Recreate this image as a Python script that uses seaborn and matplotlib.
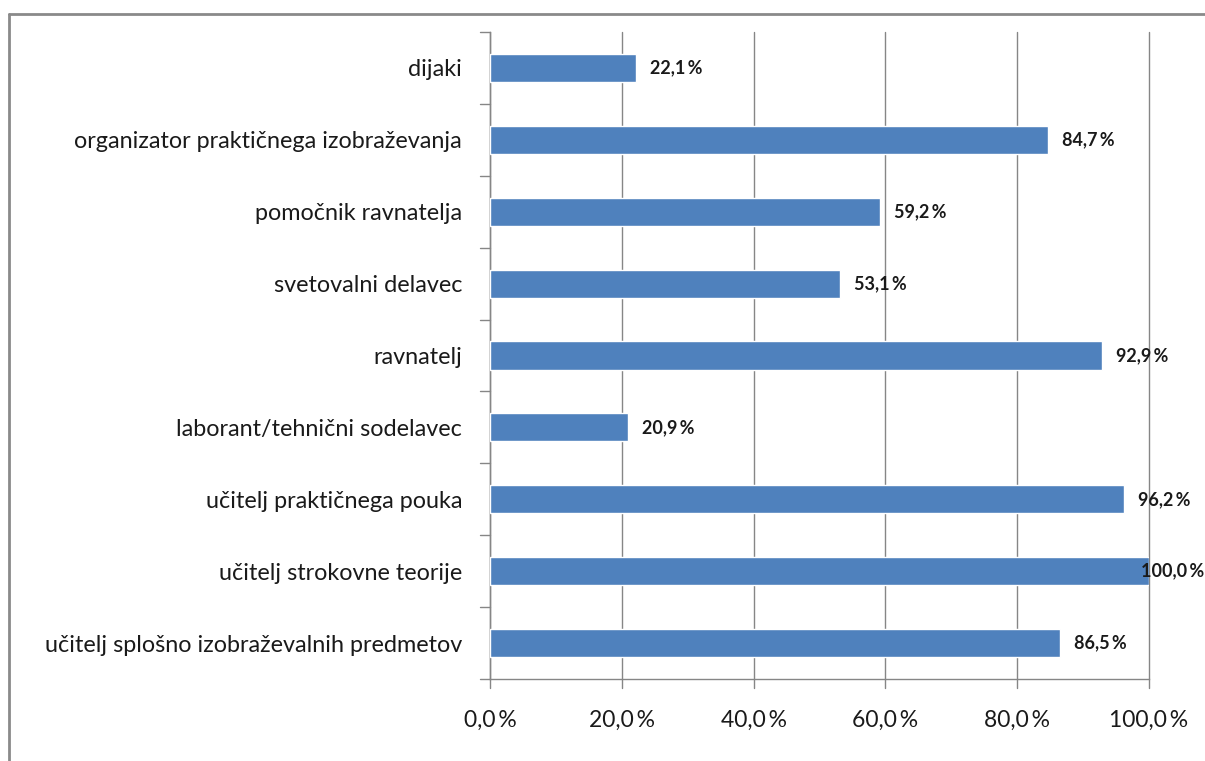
import matplotlib
matplotlib.use("Agg")
import matplotlib.pyplot as plt
import seaborn as sns
import pandas as pd
from matplotlib.lines import Line2D

categories = [
    "dijaki",
    "organizator praktičnega izobraževanja",
    "pomočnik ravnatelja",
    "svetovalni delavec",
    "ravnatelj",
    "laborant/tehnični sodelavec",
    "učitelj praktičnega pouka",
    "učitelj strokovne teorije",
    "učitelj splošno izobraževalnih predmetov",
]
values = [22.1, 84.7, 59.2, 53.1, 92.9, 20.9, 96.2, 100.0, 86.5]
xticks = [0, 20, 40, 60, 80, 100]
xtick_labels = ["0,0\u2009%", "20,0\u2009%", "40,0\u2009%", "60,0\u2009%", "80,0\u2009%", "100,0\u2009%"]

sns.set_theme(style="white")
plt.rcParams["font.family"] = ["Lato", "DejaVu Sans"]

df = pd.DataFrame({"cat": categories, "val": values})

fig = plt.figure(figsize=(12.05, 7.61), dpi=100)
W, H = 1205, 761
ax = fig.add_axes([490 / W, 1 - 679 / H, (1149 - 490) / W, (679 - 32) / H])

sns.barplot(data=df, x="val", y="cat", orient="h", color="#4F81BD", saturation=1,
            width=0.39, ax=ax, zorder=3)

ax.set_xlim(0, 100)
ax.set_ylim(len(categories) - 0.5, -0.5)
ax.set_xticks(xticks)
ax.set_xticklabels(xtick_labels, fontsize=16.5, color="#1a1a1a")
ax.set_xlabel("")
ax.set_ylabel("")
ax.tick_params(axis="x", length=0, pad=22)

ax.set_yticks([i for i in range(len(categories))])
ax.set_yticklabels(categories, fontsize=16.8, color="#1a1a1a")
ax.tick_params(axis="y", length=0, pad=20)
for b in [i - 0.5 for i in range(len(categories) + 1)]:
    ax.plot([-1.5, 0], [b, b], color="#868686", lw=1, clip_on=False, zorder=4)
for t in xticks:
    ax.plot([t, t], [-0.5, len(categories) - 0.5 + 0.13],
            color="#868686", lw=1, clip_on=False, zorder=1)

ax.grid(False)
for s in ["top", "right"]:
    ax.spines[s].set_visible(False)
for s in ["left", "bottom"]:
    ax.spines[s].set_color("#868686")
    ax.spines[s].set_linewidth(1)

for i, v in enumerate(values):
    label = f"{v:.1f}".replace(".", ",") + "\u2009%"
    if v >= 99.9:
        ax.annotate(label, (v, i), xytext=(-6, 0), textcoords="offset points",
                    va="center", ha="left", fontsize=13, fontweight="bold",
                    color="#1a1a1a", annotation_clip=False, zorder=5)
    else:
        ax.annotate(label, (v, i), xytext=(10, 0), textcoords="offset points",
                    va="center", ha="left", fontsize=13, fontweight="bold",
                    color="#1a1a1a", zorder=5)

# outer chart frame
fig.add_artist(Line2D([9 / W, 1], [1 - 14 / H, 1 - 14 / H], transform=fig.transFigure,
                      color="#8a8a8a", lw=2))
fig.add_artist(Line2D([9 / W, 9 / W], [1 - 14 / H, 0], transform=fig.transFigure,
                      color="#8a8a8a", lw=2))

fig.savefig("out.png", dpi=100)
